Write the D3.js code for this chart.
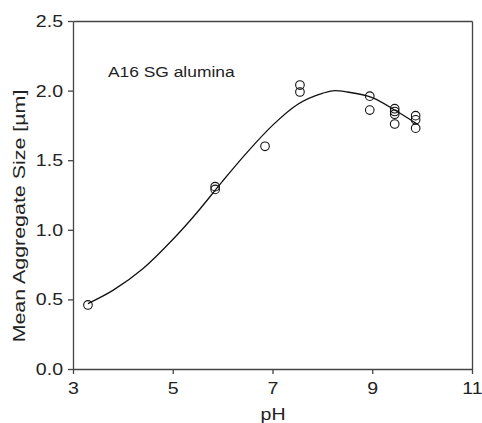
<!DOCTYPE html>
<html>
<head>
<meta charset="utf-8">
<script src="https://cdn.jsdelivr.net/npm/d3@7"></script>
<style>
  html, body { margin: 0; padding: 0; background: #fff; }
  svg { display: block; }
  text { font-family: "Liberation Sans", Arial, Helvetica, sans-serif; fill: #222; }
</style>
</head>
<body>
<svg id="chart" width="482" height="423"></svg>
<script>
// Measured data points (pH vs mean aggregate size, µm)
const phData   = [3.3, 5.85, 5.85, 6.85, 7.55, 7.55, 8.95, 8.95, 9.45, 9.45, 9.45, 9.45, 9.87, 9.87, 9.87];
const sizeData = [0.46, 1.31, 1.29, 1.60, 2.04, 1.99, 1.96, 1.86, 1.87, 1.85, 1.83, 1.76, 1.82, 1.79, 1.73];

// Fitted curve
const fitPh   = [3.3, 3.8, 4.4, 5.0, 5.5, 6.0, 6.5, 7.0, 7.5, 8.0, 8.25, 8.5, 9.0, 9.5, 9.9];
const fitSize = [0.47, 0.565, 0.72, 0.93, 1.13, 1.35, 1.56, 1.75, 1.90, 1.98, 2.00, 1.99, 1.95, 1.85, 1.76];

const xTicks = [3, 5, 7, 9, 11];
const yTicks = [0, 0.5, 1.0, 1.5, 2.0, 2.5];

const xLabel = "pH";
const yLabel = "Mean Aggregate Size [\u00b5m]";
const note = "A16 SG alumina";

const svg = d3.select("#chart");
const L = 73, R = 472, T = 21, B = 369;
const x = d3.scaleLinear().domain([3, 11]).range([L, R]);
const y = d3.scaleLinear().domain([0, 2.5]).range([B, T]);
const SX = 1.15;
const axisColor = "#444";

// Frame top/right
svg.append("g").attr("transform", `translate(0,${T})`)
  .call(d3.axisTop(x).tickValues([]).tickSizeOuter(0));
svg.append("g").attr("transform", `translate(${R},0)`)
  .call(d3.axisRight(y).tickValues([]).tickSizeOuter(0));

const xg = svg.append("g").attr("transform", `translate(0,${B})`)
  .call(d3.axisBottom(x).tickValues(xTicks).tickSize(5).tickSizeOuter(0).tickPadding(8).tickFormat(d3.format("d")));
const yg = svg.append("g").attr("transform", `translate(${L},0)`)
  .call(d3.axisLeft(y).tickValues(yTicks).tickSize(5).tickSizeOuter(0).tickFormat(d3.format(".1f")));

svg.selectAll(".domain, .tick line").attr("stroke", axisColor).attr("stroke-width", 1.3);
xg.selectAll("text").attr("font-size", 17).attr("fill", "#222")
  .attr("transform", `scale(${SX},1)`);
yg.selectAll("text").attr("font-size", 17).attr("fill", "#222")
  .attr("x", -10 / SX).attr("transform", `scale(${SX},1)`);

// Axis titles
svg.append("text")
  .attr("transform", `translate(273,420) scale(${SX},1)`)
  .attr("text-anchor", "middle").attr("font-size", 17).text(xLabel);
svg.append("text")
  .attr("transform", `translate(25,216) rotate(-90) scale(1.26,1)`)
  .attr("text-anchor", "middle").attr("font-size", 17).text(yLabel);

// Annotation
svg.append("text")
  .attr("transform", `translate(108,77) scale(1.2,1)`)
  .attr("font-size", 14.5).text(note);

// Fitted curve
const line = d3.line().x(d => x(d[0])).y(d => y(d[1])).curve(d3.curveMonotoneX);
svg.append("path")
  .datum(fitPh.map((p, i) => [p, fitSize[i]]))
  .attr("d", line).attr("fill", "none").attr("stroke", "#111").attr("stroke-width", 1.3);

// Data points
svg.append("g").selectAll("circle")
  .data(phData.map((p, i) => [p, sizeData[i]]))
  .join("circle")
  .attr("cx", d => x(d[0])).attr("cy", d => y(d[1])).attr("r", 4.3)
  .attr("fill", "none").attr("stroke", "#111").attr("stroke-width", 1.1);
</script>
</body>
</html>
